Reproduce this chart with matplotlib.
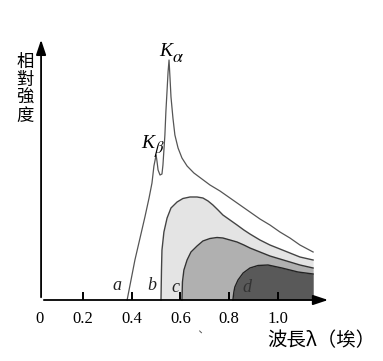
import numpy as np
import matplotlib.pyplot as plt

plt.rcParams['mathtext.fontset'] = 'stix'

# wavelength (angstrom) and relative intensity
lam_a = [0.381, 0.397, 0.413, 0.434, 0.454, 0.471, 0.483, 0.491, 0.500, 0.504,
         0.508, 0.516, 0.524, 0.528, 0.532, 0.536, 0.540, 0.545, 0.549, 0.553,
         0.557, 0.561, 0.569, 0.577, 0.590, 0.606, 0.627, 0.655, 0.688, 0.721,
         0.762, 0.803, 0.844, 0.885, 0.926, 0.967, 1.008, 1.049, 1.090, 1.144]
int_a = [0, 20, 40, 62, 83, 102, 117, 134, 145, 138,
         130, 125, 126, 135, 150, 165, 188, 210, 228, 240,
         222, 203, 182, 165, 152, 142, 134, 127, 121, 115,
         109, 102, 95, 88, 81, 75, 68, 62, 55, 48]

lam_b = [0.520, 0.522, 0.524, 0.532, 0.545, 0.561, 0.586, 0.610, 0.639, 0.668,
         0.692, 0.713, 0.733, 0.754, 0.774, 0.803, 0.832, 0.860, 0.885, 0.926,
         0.967, 1.008, 1.049, 1.090, 1.144]
int_b = [0, 30, 50, 68, 82, 92, 98, 101.5, 103, 103,
         102, 99, 95, 90, 85, 80, 75, 70, 66, 60,
         55, 51, 47, 43, 40]

lam_c = [0.606, 0.608, 0.614, 0.627, 0.643, 0.668, 0.692, 0.721, 0.750, 0.774,
         0.803, 0.832, 0.860, 0.885, 0.926, 0.967, 1.008, 1.049, 1.090, 1.144]
int_c = [0, 18, 30, 40, 48, 54, 59, 61.5, 62.5, 62,
         60, 58, 55, 52, 48, 44, 41, 38, 35, 32]

lam_d = [0.815, 0.819, 0.823, 0.836, 0.857, 0.885, 0.918, 0.959, 1.016, 1.082, 1.144]
int_d = [0, 8, 13, 20, 27, 32, 34.5, 35, 32, 28, 26]

tick_vals = [0.2, 0.4, 0.6, 0.8, 1.0]
tick_labels = ['0', '0.2', '0.4', '0.6', '0.8', '1.0']
curve_names = ['a', 'b', 'c', 'd']

fig = plt.figure(figsize=(3.83, 3.61), dpi=100)
ax = fig.add_axes([0, 0, 1, 1])
ax.set_xlim(-0.1405, 1.4308)
ax.set_ylim(-61, 300)
ax.set_axis_off()

x0 = 0.028  # where the vertical axis is drawn

# shaded spectra
ax.fill_between(lam_b, int_b, color='#e4e4e4', lw=0)
ax.fill_between(lam_c, int_c, color='#b0b0b0', lw=0)
ax.fill_between(lam_d, int_d, color='#595959', lw=0)

ax.plot(lam_a, int_a, color='#555555', lw=0.9)
ax.plot(lam_b, int_b, color='#444444', lw=1.0)
ax.plot(lam_c, int_c, color='#333333', lw=1.0)
ax.plot(lam_d, int_d, color='#222222', lw=1.0)

# axes with arrows
ax.annotate('', xy=(1.217, 0), xytext=(x0, 0),
            arrowprops=dict(arrowstyle='-|>,head_length=0.9,head_width=0.3', color='black', lw=1.3))
ax.annotate('', xy=(x0, 263), xytext=(x0, 0),
            arrowprops=dict(arrowstyle='-|>,head_length=0.9,head_width=0.3', color='black', lw=1.3))
ax.vlines(tick_vals, 0, 8, color='black', lw=1.4)

for v, t in zip([0.02] + tick_vals, tick_labels):
    ax.text(v, -19, t, ha='center', va='center', fontsize=12, family='Liberation Serif')

# curve letters
for (x, y), n in zip([(0.340, 14), (0.483, 14), (0.578, 13), (0.872, 13)], curve_names):
    ax.text(x, y, n, ha='center', va='center', fontsize=13, style='italic',
            family='Liberation Serif', color='#222222' if n != 'd' else '#333333')

# peak labels
ax.text(0.541, 249, 'K', fontsize=14, style='italic', family='Liberation Serif', ha='center', va='center')
ax.text(0.590, 243, r'$\alpha$', fontsize=13, ha='center', va='center')
ax.text(0.464, 157, 'K', fontsize=14, style='italic', family='Liberation Serif', ha='center', va='center')
ax.text(0.516, 151, r'$\beta$', fontsize=12, ha='center', va='center')

cjk = ['Noto Sans CJK TC', 'DejaVu Sans']
ax.text(-0.038, 211, '相\n對\n強\n度', ha='center', va='center', fontsize=12.5,
        family=cjk, linespacing=1.0)
ax.text(1.18, -41, '波長λ（埃）', ha='center', va='center', fontsize=14, family=cjk)
ax.text(0.68, -34, '、', ha='center', va='center', fontsize=8, family=cjk, color='#555555')

fig.savefig('out.png', dpi=100)
